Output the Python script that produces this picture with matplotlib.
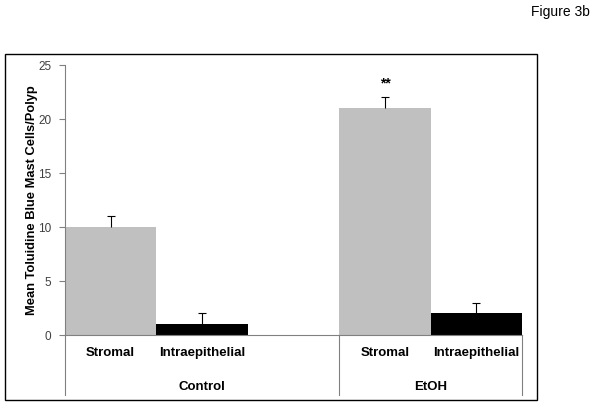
import matplotlib.pyplot as plt
from matplotlib.patches import Rectangle
from matplotlib.lines import Line2D
import matplotlib.transforms as mtrans

plt.rcParams['font.family'] = ['Liberation Sans', 'DejaVu Sans']

# datos
groups = ['Control', 'EtOH']
cats = ['Stromal', 'Intraepithelial', '', 'Stromal', 'Intraepithelial']
vals = [10, 1, None, 21, 2]
errs = [1, 1, None, 1, 1]
cols = ['#c0c0c0', '#000000', None, '#c0c0c0', '#000000']
star_pos = 3
star_y = 23.3

fig = plt.figure(figsize=(6.01, 4.05), dpi=100)
ax = fig.add_axes([65/601, 70/405, 457/601, 270/405])

for i, v in enumerate(vals):
    if v is None:
        continue
    ax.bar(i, v, width=1.0, color=cols[i], zorder=2)
    eb = ax.errorbar(i, v, yerr=[[0], [errs[i]]], fmt='none', ecolor='black',
                     elinewidth=0.8, capsize=3, capthick=0.8, zorder=3)
    eb[1][0].set_visible(False)  # sin tapa inferior

ax.text(star_pos, star_y, '**', ha='center', va='center', fontsize=10,
        fontweight='bold')

ax.set_xlim(-0.5, 4.5)
ax.set_ylim(0, 25)
ax.set_yticks([0, 5, 10, 15, 20, 25])
ax.tick_params(axis='y', direction='out', length=4, color='#808080',
               labelsize=8.5, labelcolor='#404040', pad=6)
ax.set_xticks([])
ax.spines['top'].set_visible(False)
ax.spines['right'].set_visible(False)
ax.spines['left'].set_color('#808080')
ax.spines['bottom'].set_color('#808080')
ax.spines['left'].set_linewidth(0.8)
ax.spines['bottom'].set_linewidth(0.8)
ax.set_ylabel('Mean Toluidine Blue Mast Cells/Polyp', fontsize=9.3,
              fontweight='bold', labelpad=0)

# etiquetas de categoria en dos niveles
tr = mtrans.blended_transform_factory(ax.transData, fig.transFigure)
for i, c in enumerate(cats):
    if c:
        ax.text(i, 1 - 353/405, c, transform=tr, ha='center', va='center',
                fontsize=9.5, fontweight='bold')
ax.text(1.0, 1 - 387/405, groups[0], transform=tr, ha='center', va='center',
        fontsize=9.5, fontweight='bold')
ax.text(3.5, 1 - 387/405, groups[1], transform=tr, ha='center', va='center',
        fontsize=9.5, fontweight='bold')
for xs in [-0.5, 2.5, 4.5]:
    fig.add_artist(Line2D([xs, xs], [1 - 335/405, 1 - 395/405], transform=tr,
                          color='#808080', lw=0.8))

# marco exterior
fig.add_artist(Rectangle((5/601, 1 - 400/405), 532/601, 346/405,
                         transform=fig.transFigure, fill=False,
                         edgecolor='black', lw=1))

fig.text(590/601, 1 - 12/405, 'Figure 3b', ha='right', va='center',
         fontsize=10)

fig.savefig('out.png', dpi=100)
